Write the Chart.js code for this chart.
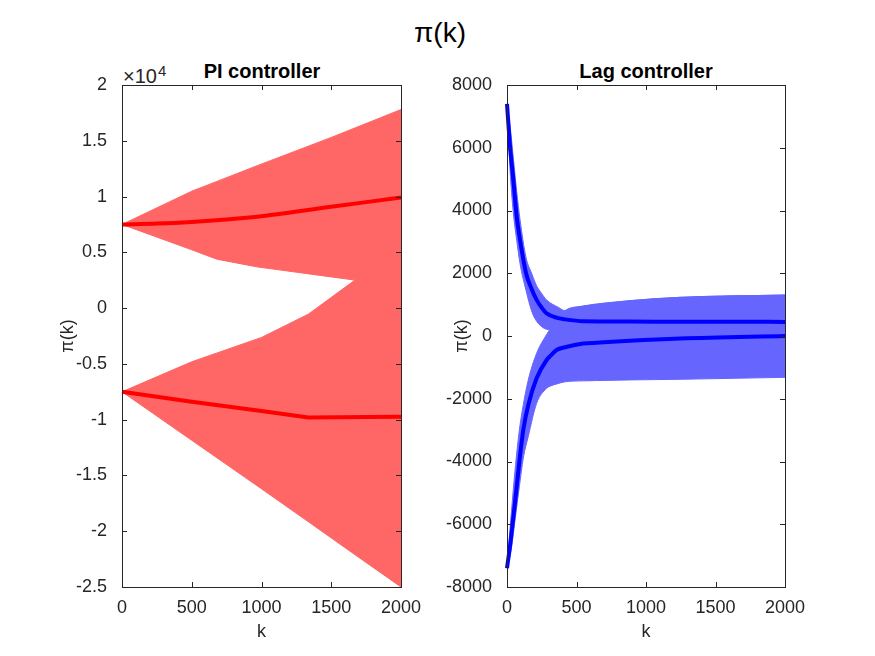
<!DOCTYPE html>
<html lang="en">
  <head>
    <meta charset="UTF-8" />
    <title>pi(k)</title>
    <script src="https://cdn.jsdelivr.net/npm/chart.js"></script>
    <style>
      body {
        margin: 0;
        background: #fff;
        font-family: "Liberation Sans", Arial, sans-serif;
        color: #262626;
      }
      .fig {
        position: relative;
        width: 875px;
        height: 656px;
        overflow: hidden;
      }
      .fig canvas {
        position: absolute;
        top: 0;
      }
      .txt {
        position: absolute;
        text-align: center;
        white-space: nowrap;
      }
      .main-title {
        left: 0;
        width: 880px;
        top: 16px;
        font-size: 28px;
        line-height: 34px;
        color: #000;
      }
      .sub-title {
        width: 240px;
        top: 59px;
        font-size: 20px;
        line-height: 24px;
        font-weight: bold;
        color: #000;
      }
      .exp {
        left: 123px;
        top: 60px;
        font-size: 20px;
        line-height: 22px;
        text-align: left;
      }
      .exp sup {
        font-size: 15px;
        vertical-align: 7px;
        margin-left: 1px;
      }
    </style>
  </head>
  <body>
    <div class="fig">
      <div class="txt main-title">π(k)</div>
      <div class="txt sub-title" style="left: 142px">PI controller</div>
      <div class="txt sub-title" style="left: 526px">Lag controller</div>
      <div class="txt exp">×10<sup>4</sup></div>
      <canvas id="piChart" style="left: 0px"></canvas>
      <canvas id="lagChart" style="left: 437px"></canvas>
    </div>

    <script>
      // ---- data ----
      const kTicks = [0, 500, 1000, 1500, 2000];

      // PI controller
      const piTicks = [-25000, -20000, -15000, -10000, -5000, 0, 5000, 10000, 15000, 20000];
      const piTickLabels = ["-2.5", "-2", "-1.5", "-1", "-0.5", "0", "0.5", "1", "1.5", "2"];

      const kPiUpper = [0, 500, 679, 965, 1500, 1670, 2000];
      const piUpperTop = [7500, 10480, 11350, 12750, 15300, 16150, 17800];
      const piUpperBottom = [7500, 5230, 4390, 3700, 2800, 2510, 2240];

      const kPiLower = [0, 500, 1000, 1336, 1670, 2000];
      const piLowerTop = [-7500, -4810, -2630, -540, 2510, 5000];
      const piLowerBottom = [-7500, -11850, -16200, -19150, -22100, -25000];

      const kPiUpperMean = [0, 250, 500, 750, 1000, 1500, 2000];
      const piUpperMean = [7500, 7580, 7730, 7950, 8240, 9080, 9920];
      const kPiLowerMean = [0, 500, 1000, 1336, 2000];
      const piLowerMean = [-7500, -8400, -9230, -9800, -9740];

      // Lag controller
      const lagTicks = [-8000, -6000, -4000, -2000, 0, 2000, 4000, 6000, 8000];
      const lagTickLabels = ["-8000", "-6000", "-4000", "-2000", "0", "2000", "4000", "6000", "8000"];

      const kLagUpper = [0, 22, 45, 70, 94, 137, 177, 213, 250, 285, 369, 417, 549, 885, 1245, 2000];
      const lagUpperTop = [7400, 6700, 5700, 4600, 3700, 2500, 2000, 1600, 1350, 1147, 914, 806, 956, 1126, 1233, 1306];
      const lagUpperBottom = [7400, 5300, 3950, 3050, 2300, 1450, 800, 470, 297, 213, 180, 150, 50, -100, -200, -400];
      const lagUpperMean = [7400, 6030, 5000, 3800, 3060, 2000, 1500, 1150, 900, 720, 570, 530, 470, 460, 455, 450];

      const kLagLower = [0, 27, 58, 89, 117, 153, 213, 285, 309, 357, 417, 549, 645, 885, 1245, 2000];
      const lagLowerTop = [-7400, -5865, -4271, -2996, -2200, -1402, -553, 50, 213, 500, 806, 956, 1000, 1126, 1233, 1306];
      const lagLowerBottom = [-7400, -6900, -5865, -4800, -3900, -3200, -2147, -1668, -1600, -1530, -1460, -1430, -1420, -1400, -1380, -1318];
      const lagLowerMean = [-7400, -6500, -5290, -4000, -2996, -2200, -1350, -765, -650, -446, -360, -240, -213, -150, -80, 0];

      // ---- helpers ----
      const axisColor = "#262626";
      const font = { family: "'Liberation Sans', Arial, sans-serif", size: 18 };

      function pts(ks, vs) {
        return ks.map((k, i) => ({ x: k, y: vs[i] }));
      }

      function band(ks, top, bottom, color, smooth) {
        const common = {
          borderColor: color,
          backgroundColor: color,
          borderWidth: 1,
          pointRadius: 0,
          cubicInterpolationMode: smooth ? "monotone" : "default",
          tension: 0,
        };
        return [
          Object.assign({ data: pts(ks, top), fill: "+1" }, common),
          Object.assign({ data: pts(ks, bottom), fill: false }, common),
        ];
      }

      function meanLine(ks, vs, color, smooth) {
        return {
          data: pts(ks, vs),
          borderColor: color,
          borderWidth: 4,
          pointRadius: 0,
          fill: false,
          clip: false,
          cubicInterpolationMode: smooth ? "monotone" : "default",
          tension: 0,
        };
      }

      // box around the axes with inward tick marks, like MATLAB
      const boxPlugin = {
        id: "box",
        afterDatasetsDraw(chart) {
          const { ctx, chartArea: a, scales } = chart;
          ctx.save();
          ctx.strokeStyle = axisColor;
          ctx.lineWidth = 1;
          ctx.strokeRect(a.left + 0.5, a.top + 0.5, a.right - a.left, a.bottom - a.top);
          ctx.beginPath();
          scales.x.ticks.forEach((t) => {
            const x = Math.round(scales.x.getPixelForValue(t.value)) + 0.5;
            ctx.moveTo(x, a.bottom);
            ctx.lineTo(x, a.bottom - 5);
            ctx.moveTo(x, a.top);
            ctx.lineTo(x, a.top + 5);
          });
          scales.y.ticks.forEach((t) => {
            const y = Math.round(scales.y.getPixelForValue(t.value)) + 0.5;
            ctx.moveTo(a.left, y);
            ctx.lineTo(a.left + 5, y);
            ctx.moveTo(a.right, y);
            ctx.lineTo(a.right - 5, y);
          });
          ctx.stroke();
          ctx.restore();
        },
      };

      function makeChart(id, width, cfg) {
        const canvas = document.getElementById(id);
        canvas.style.width = width + "px";
        canvas.style.height = "656px";
        canvas.width = width;
        canvas.height = 656;
        return new Chart(canvas, {
          type: "line",
          data: { datasets: cfg.datasets },
          options: {
            responsive: false,
            animation: false,
            events: [],
            layout: { padding: { left: 0, right: cfg.padRight, top: 85, bottom: 9 } },
            plugins: { legend: { display: false }, tooltip: { enabled: false } },
            scales: {
              x: {
                type: "linear",
                min: 0,
                max: 2000,
                afterBuildTicks: (s) => (s.ticks = kTicks.map((v) => ({ value: v }))),
                afterFit: (s) => (s.height = 60),
                grid: { display: false },
                border: { display: false },
                ticks: { color: axisColor, font, padding: 2, maxRotation: 0, callback: (v) => String(v) },
                title: { display: true, text: "k", color: axisColor, font, padding: { top: 0, bottom: 4 } },
              },
              y: {
                type: "linear",
                min: cfg.yTicks[0],
                max: cfg.yTicks[cfg.yTicks.length - 1],
                afterBuildTicks: (s) => (s.ticks = cfg.yTicks.map((v) => ({ value: v }))),
                afterFit: (s) => (s.width = cfg.yWidth),
                grid: { display: false },
                border: { display: false },
                ticks: {
                  color: axisColor,
                  font,
                  padding: 7,
                  callback: (v) => cfg.yLabels[cfg.yTicks.indexOf(v)],
                },
                title: { display: true, text: "π(k)", color: axisColor, font, padding: { top: cfg.yTitlePad, bottom: 0 } },
              },
            },
          },
          plugins: [boxPlugin],
        });
      }

      // datasets with lower index are drawn on top, so mean lines go first
      const red = "#ff0000";
      const redFill = "#ff6666";
      makeChart("piChart", 437, {
        padRight: 36,
        yWidth: 122,
        yTitlePad: 57,
        yTicks: piTicks,
        yLabels: piTickLabels,
        datasets: [
          meanLine(kPiUpperMean, piUpperMean, red, true),
          meanLine(kPiLowerMean, piLowerMean, red, false),
          ...band(kPiUpper, piUpperTop, piUpperBottom, redFill, false),
          ...band(kPiLower, piLowerTop, piLowerBottom, redFill, false),
        ],
      });

      const blue = "#0000ff";
      const blueFill = "#6666ff";
      makeChart("lagChart", 438, {
        padRight: 90,
        yWidth: 70,
        yTitlePad: 14,
        yTicks: lagTicks,
        yLabels: lagTickLabels,
        datasets: [
          meanLine(kLagUpper, lagUpperMean, blue, true),
          meanLine(kLagLower, lagLowerMean, blue, true),
          ...band(kLagUpper, lagUpperTop, lagUpperBottom, blueFill, true),
          ...band(kLagLower, lagLowerTop, lagLowerBottom, blueFill, true),
        ],
      });
    </script>
  </body>
</html>
